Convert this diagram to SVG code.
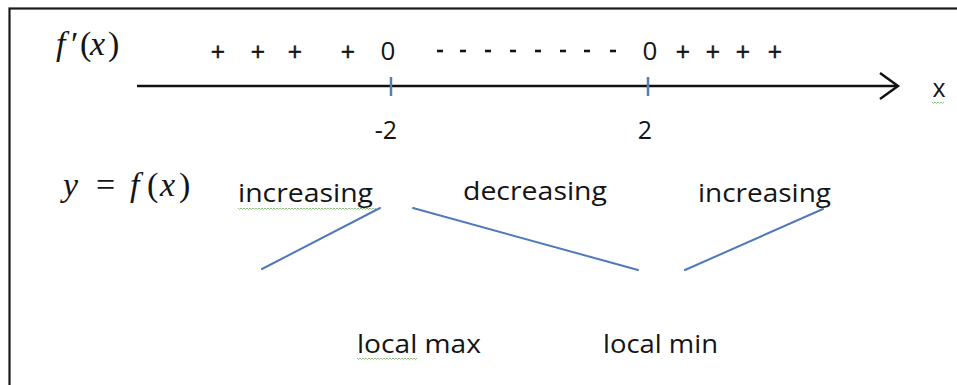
<svg xmlns="http://www.w3.org/2000/svg" width="957" height="385" viewBox="0 0 957 385">
<style>
.t{font-family:"Open Sans","Liberation Sans",sans-serif;fill:#141414}
.m{font-family:"Liberation Serif","DejaVu Serif",serif;font-style:italic;fill:#141414;font-size:34px}
.mu{font-family:"Liberation Serif","DejaVu Serif",serif;fill:#141414;font-size:34px}
.lbl{font-size:26px}
.sg{font-size:25px;text-anchor:middle;stroke:#141414;stroke-width:0.5}
.dash{stroke:#141414;stroke-width:2.6}
.curve{stroke:#4f79b8;stroke-width:2;fill:none;stroke-linecap:round}
.tick{stroke:#5b7ea8;stroke-width:2.5}
.sq{stroke:#8cbc7c;stroke-width:1;fill:none}
</style>
<rect x="0" y="0" width="957" height="385" fill="#fff"/>
<rect id="frame" x="9.5" y="8.5" width="970" height="400" fill="none" stroke="#1a1a1a" stroke-width="2.2"/>

<g id="axis">
  <line x1="137" y1="86" x2="897" y2="86" stroke="#111" stroke-width="2.5"/>
  <polyline points="880,73 898,86 880,99" fill="none" stroke="#111" stroke-width="2.5" stroke-linejoin="miter"/>
  <line class="tick" x1="391" y1="77" x2="391" y2="96"/>
  <line class="tick" x1="648" y1="77" x2="648" y2="96"/>
  <text class="t" x="939" y="97" font-size="25" text-anchor="middle">x</text>
  <path class="sq" d="M932,102 l1.5,1.5 l1.5,-1.5 l1.5,1.5 l1.5,-1.5 l1.5,1.5 l1.5,-1.5 l1.5,1.5 l1.5,-1.5"/>
  <text class="t" x="386" y="139" font-size="25" text-anchor="middle">-2</text>
  <text class="t" x="645" y="139" font-size="25" text-anchor="middle">2</text>
</g>

<g id="derivative-row">
  <text class="m" x="56" y="55">f</text>
  <text class="mu" x="71" y="55">′</text>
  <text class="mu" x="80" y="55">(</text>
  <text class="m" x="90" y="55">x</text>
  <text class="mu" x="108" y="55">)</text>
  <text class="t sg" x="218" y="61">+</text>
  <text class="t sg" x="258" y="61">+</text>
  <text class="t sg" x="295" y="61">+</text>
  <text class="t sg" x="348" y="61">+</text>
  <text class="t" x="388" y="60" font-size="26" text-anchor="middle">0</text>
  <line class="dash" x1="437" y1="51" x2="443" y2="51"/>
  <line class="dash" x1="460" y1="51" x2="466" y2="51"/>
  <line class="dash" x1="485" y1="51" x2="491" y2="51"/>
  <line class="dash" x1="510" y1="51" x2="516" y2="51"/>
  <line class="dash" x1="535" y1="51" x2="541" y2="51"/>
  <line class="dash" x1="560" y1="51" x2="566" y2="51"/>
  <line class="dash" x1="584" y1="51" x2="590" y2="51"/>
  <line class="dash" x1="610" y1="51" x2="616" y2="51"/>
  <text class="t" x="650" y="60" font-size="26" text-anchor="middle">0</text>
  <text class="t sg" x="683" y="61">+</text>
  <text class="t sg" x="713" y="61">+</text>
  <text class="t sg" x="743" y="61">+</text>
  <text class="t sg" x="775" y="61">+</text>
</g>

<g id="function-row">
  <text class="m" x="63" y="196">y</text>
  <text class="mu" x="96" y="196">=</text>
  <text class="m" x="130" y="196">f</text>
  <text class="mu" x="147" y="196">(</text>
  <text class="m" x="160" y="196">x</text>
  <text class="mu" x="179" y="196">)</text>
  <text class="t lbl" x="238" y="202" textLength="135" lengthAdjust="spacingAndGlyphs">increasing</text>
  <path class="sq" d="M238,208 l1.5,1.5 l1.5,-1.5 l1.5,1.5 l1.5,-1.5 l1.5,1.5 l1.5,-1.5 l1.5,1.5 l1.5,-1.5 l1.5,1.5 l1.5,-1.5 l1.5,1.5 l1.5,-1.5 l1.5,1.5 l1.5,-1.5 l1.5,1.5 l1.5,-1.5 l1.5,1.5 l1.5,-1.5 l1.5,1.5 l1.5,-1.5 l1.5,1.5 l1.5,-1.5 l1.5,1.5 l1.5,-1.5 l1.5,1.5 l1.5,-1.5 l1.5,1.5 l1.5,-1.5 l1.5,1.5 l1.5,-1.5 l1.5,1.5 l1.5,-1.5 l1.5,1.5 l1.5,-1.5 l1.5,1.5 l1.5,-1.5 l1.5,1.5 l1.5,-1.5 l1.5,1.5 l1.5,-1.5 l1.5,1.5 l1.5,-1.5 l1.5,1.5 l1.5,-1.5 l1.5,1.5 l1.5,-1.5 l1.5,1.5 l1.5,-1.5 l1.5,1.5 l1.5,-1.5 l1.5,1.5 l1.5,-1.5 l1.5,1.5 l1.5,-1.5 l1.5,1.5 l1.5,-1.5 l1.5,1.5 l1.5,-1.5 l1.5,1.5 l1.5,-1.5 l1.5,1.5 l1.5,-1.5 l1.5,1.5 l1.5,-1.5 l1.5,1.5 l1.5,-1.5 l1.5,1.5 l1.5,-1.5 l1.5,1.5 l1.5,-1.5 l1.5,1.5 l1.5,-1.5 l1.5,1.5 l1.5,-1.5 l1.5,1.5 l1.5,-1.5 l1.5,1.5 l1.5,-1.5 l1.5,1.5 l1.5,-1.5 l1.5,1.5 l1.5,-1.5 l1.5,1.5 l1.5,-1.5 l1.5,1.5 l1.5,-1.5 l1.5,1.5 l1.5,-1.5 l1.5,1.5 l1.5,-1.5 l1.5,1.5 l1.5,-1.5"/>
  <text class="t lbl" x="463" y="200" textLength="144" lengthAdjust="spacingAndGlyphs">decreasing</text>
  <text class="t lbl" x="698" y="202" textLength="133" lengthAdjust="spacingAndGlyphs">increasing</text>
</g>

<g id="connectors">
  <line class="curve" x1="262" y1="269" x2="380" y2="208"/>
  <line class="curve" x1="413" y1="208" x2="638" y2="270"/>
  <line class="curve" x1="685" y1="270" x2="823" y2="209"/>
</g>

<g id="extrema">
  <text class="t lbl" x="357" y="353" textLength="124" lengthAdjust="spacingAndGlyphs">local max</text>
  <path class="sq" d="M357,358 l1.5,1.5 l1.5,-1.5 l1.5,1.5 l1.5,-1.5 l1.5,1.5 l1.5,-1.5 l1.5,1.5 l1.5,-1.5 l1.5,1.5 l1.5,-1.5 l1.5,1.5 l1.5,-1.5 l1.5,1.5 l1.5,-1.5 l1.5,1.5 l1.5,-1.5 l1.5,1.5 l1.5,-1.5 l1.5,1.5 l1.5,-1.5 l1.5,1.5 l1.5,-1.5 l1.5,1.5 l1.5,-1.5 l1.5,1.5 l1.5,-1.5 l1.5,1.5 l1.5,-1.5 l1.5,1.5 l1.5,-1.5 l1.5,1.5 l1.5,-1.5 l1.5,1.5 l1.5,-1.5 l1.5,1.5 l1.5,-1.5 l1.5,1.5 l1.5,-1.5 l1.5,1.5 l1.5,-1.5"/>
  <text class="t lbl" x="603" y="353" textLength="115" lengthAdjust="spacingAndGlyphs">local min</text>
</g>
</svg>
